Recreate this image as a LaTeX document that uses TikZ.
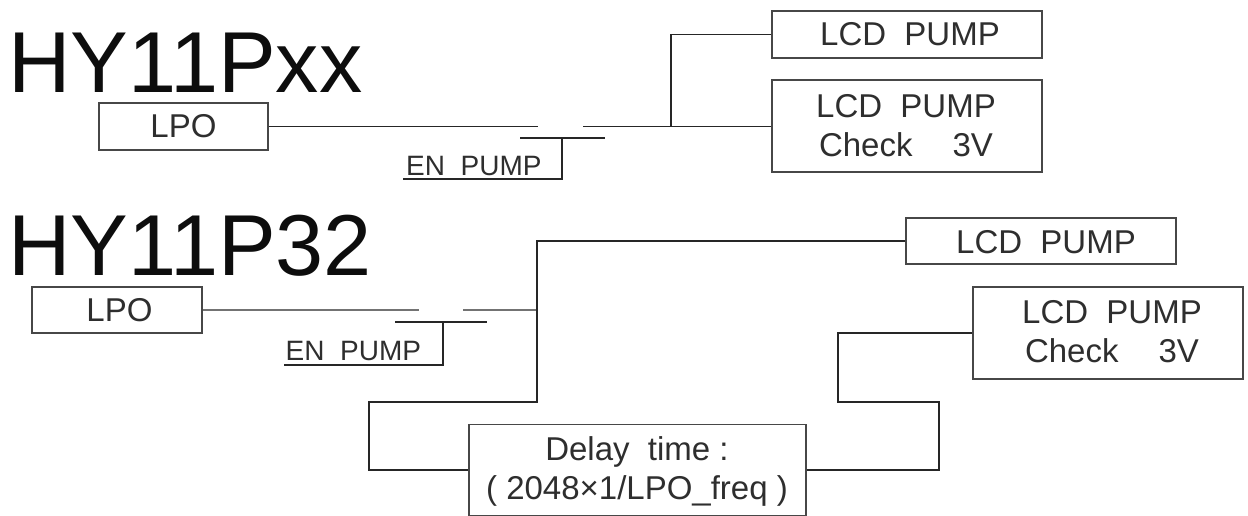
\documentclass[tikz,border=0pt]{standalone}
\usepackage{fontspec}
\setmainfont{Liberation Sans}
\tikzset{box/.style={draw=black!72,line width=1.8pt,inner sep=0pt},
txt/.style={inner sep=0pt,anchor=base,align=center,text=black!82,font=\fontsize{33}{39}\selectfont},
wire/.style={black!85,line width=1.3pt},
greywire/.style={black!55,line width=1.8pt},
ttl/.style={inner sep=0pt,text=black!95,font=\fontsize{86.5}{86}\selectfont,anchor=base west},
lbl/.style={inner sep=0pt,text=black!82,font=\fontsize{28}{28}\selectfont,anchor=base west}}
\begin{document}
\begin{tikzpicture}[x=1pt,y=-1pt]
\useasboundingbox (0,0) rectangle (1248,515);
\node[ttl] (t1) at (8,92) {HY11Pxx};
\node[ttl] (t2) at (8,275) {HY11P32};
\node[box,minimum width=169,minimum height=47] (lpo1) at (183.5,126.5) {};
\node[box,minimum width=270,minimum height=47] (p1) at (907,34.5) {};
\node[box,minimum width=270,minimum height=92] (c1) at (907,126) {};
\node[box,minimum width=170,minimum height=46] (lpo2) at (117,310) {};
\node[box,minimum width=270,minimum height=46] (p2) at (1041,241) {};
\node[box,minimum width=270,minimum height=92] (c2) at (1108,333) {};
\node[box,minimum width=337,minimum height=91] (d) at (637.5,470) {};
\node[txt] (tlpo1) at (183.5,137) {LPO};
\node[txt] (tp1) at (910,45) {LCD\ \ PUMP};
\node[txt] (tc1) at (906,156) {LCD\ \ PUMP\\Check\hspace{40pt}3V};
\node[txt] (tlpo2) at (119.5,321) {LPO};
\node[txt] (tp2) at (1046,253) {LCD\ \ PUMP};
\node[txt] (tc2) at (1112,362) {LCD\ \ PUMP\\Check\hspace{40pt}3V};
\node[txt] (td) at (637,499) {Delay\ \ time :\\(\ 2048×1/LPO\_freq\ )};
\coordinate (s1a) at (538,126.5); \coordinate (s1b) at (583,126.5);
\coordinate (j1) at (671,126.5);
\coordinate (b1a) at (520,138); \coordinate (b1b) at (605,138);
\coordinate (s2a) at (419,310); \coordinate (s2b) at (463,310);
\coordinate (j2) at (537,310);
\coordinate (b2a) at (395,322); \coordinate (b2b) at (487,322);
\draw[wire] (lpo1.east) -- (s1a);
\draw[wire] (s1b) -- (c1.west |- s1b);
\draw[wire] (j1) -- (671,34.5) -- (p1.west);
\draw[wire] (b1a) -- (b1b);
\node[lbl] (en1) at (406,175) {EN\ \ PUMP};
\draw[wire] (562,138) -- (562,179) -- (403,179);
\draw[greywire] (lpo2.east) -- (s2a);
\draw[greywire] (s2b) -- (j2);
\draw[wire] (b2a) -- (b2b);
\node[lbl] (en2) at (285.5,360) {EN\ \ PUMP};
\draw[wire] (443,322) -- (443,365) -- (284,365);
\draw[wire] (p2.west) -- (537,241) -- (537,402) -- (369,402) -- (369,470) -- (d.west);
\draw[wire] (d.east) -- (939,470) -- (939,402) -- (838,402) -- (838,333) -- (c2.west);
\end{tikzpicture}
\end{document}
